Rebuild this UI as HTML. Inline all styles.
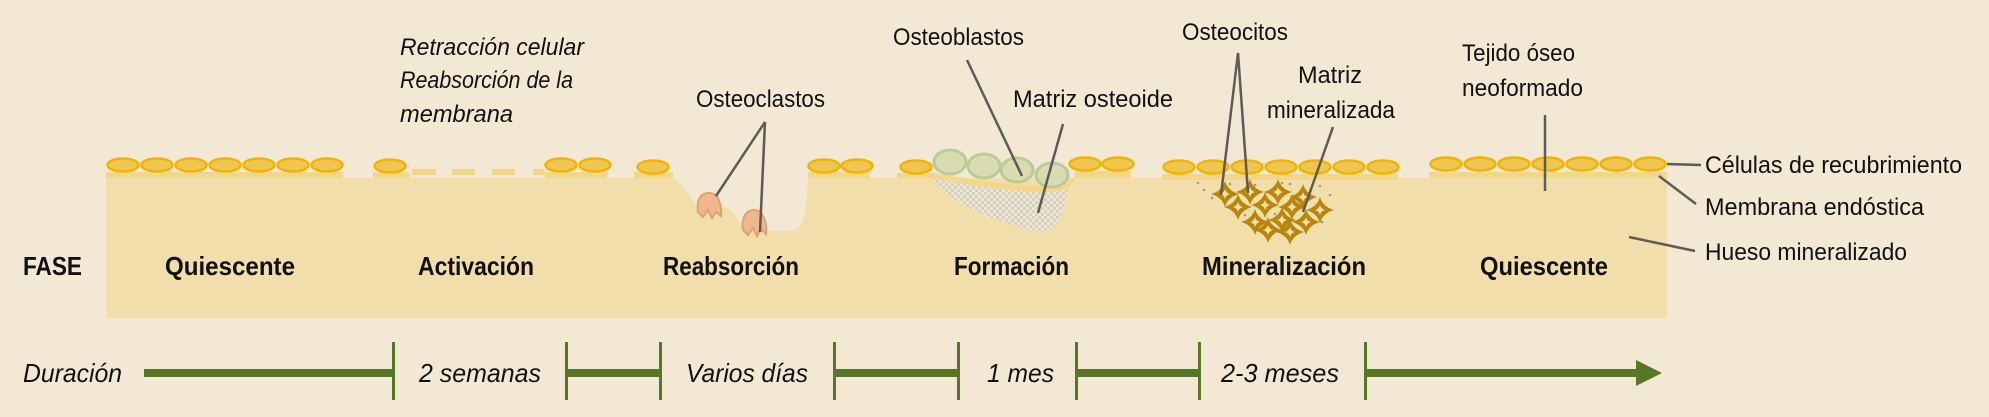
<!DOCTYPE html>
<html><head><meta charset="utf-8"><style>
html,body{margin:0;padding:0;background:#f3e8d4;}
svg{display:block;}
text{font-family:"Liberation Sans Narrow","Liberation Sans",sans-serif;fill:#111;}
.b{font-weight:bold;}
.i{font-style:italic;}
</style></head><body>
<svg width="1989" height="417" viewBox="0 0 1989 417" xmlns="http://www.w3.org/2000/svg">
<defs>
<pattern id="chk" width="6" height="6" patternUnits="userSpaceOnUse">
<rect width="6" height="6" fill="#ece6d6"/><rect width="3" height="3" fill="#d8d0bf"/><rect x="3" y="3" width="3" height="3" fill="#d8d0bf"/>
</pattern>
<g id="cell"><ellipse cx="0" cy="0" rx="15.5" ry="6.5" fill="#efc651" stroke="#f0b400" stroke-width="2.5"/></g>
<g id="star"><path d="M0,-13 Q3,-3 14,0 Q3,3 0,13 Q-3,3 -14,0 Q-3,-3 0,-13Z" fill="#b8860b"/><path d="M0,-5 Q1,-1 5,0 Q1,1 0,5 Q-1,1 -5,0 Q-1,-1 0,-5Z" fill="#f1deaa"/></g>
</defs>
<!-- bone -->
<path d="M106,178 H673 C690,190 690,205 705,210 C720,212 725,200 735,215 C745,232 760,231 790,231 C806,230 806,210 808,178 H1667 V318 H106Z" fill="#f1deaa"/>
<!-- strips -->
<g fill="#f2d68a">
<rect x="106" y="172" width="237" height="6"/>
<rect x="373" y="172" width="36" height="6"/>
<rect x="412" y="169" width="24" height="6"/><rect x="452" y="169" width="23" height="6"/><rect x="492" y="169" width="23" height="6"/><rect x="533" y="169" width="12" height="6"/>
<rect x="545" y="172" width="62" height="6"/>
<rect x="634" y="172" width="39" height="6"/>
<rect x="808" y="172" width="62" height="6"/>
<rect x="897" y="173" width="36" height="5"/>
<rect x="1075" y="171" width="56" height="7"/>
<rect x="1162" y="174" width="236" height="6"/>
<rect x="1429" y="172" width="238" height="6"/>
</g>
<!-- formation -->
<path d="M933,178 C945,200 990,222 1040,231 C1060,232 1064,210 1068,190 L935,178Z" fill="url(#chk)"/>
<path d="M933,173 C960,178 1000,184 1040,186 C1062,187 1068,185 1072,178 L1075,178 C1072,188 1060,193 1040,192 C1000,190 960,184 933,178Z" fill="#f2d68a"/>
<g fill="#d9dcb0" stroke="#b8cc98" stroke-width="3">
<ellipse cx="950" cy="162" rx="16" ry="12"/><ellipse cx="984" cy="166" rx="16" ry="12"/><ellipse cx="1017" cy="170" rx="16" ry="12"/><ellipse cx="1052" cy="175" rx="16" ry="12"/>
</g>
<!-- cells -->
<g>
<use href="#cell" x="123" y="165"/><use href="#cell" x="157" y="165"/><use href="#cell" x="191" y="165"/><use href="#cell" x="225" y="165"/><use href="#cell" x="259" y="165"/><use href="#cell" x="293" y="165"/><use href="#cell" x="327" y="165"/>
<use href="#cell" x="390" y="166"/>
<use href="#cell" x="561" y="165"/><use href="#cell" x="595" y="165"/>
<use href="#cell" x="653" y="167"/>
<use href="#cell" x="824" y="166"/><use href="#cell" x="857" y="166"/>
<use href="#cell" x="916" y="167"/>
<use href="#cell" x="1085" y="164"/><use href="#cell" x="1118" y="164"/>
<use href="#cell" x="1179" y="167"/><use href="#cell" x="1213" y="167"/><use href="#cell" x="1247" y="167"/><use href="#cell" x="1281" y="167"/><use href="#cell" x="1315" y="167"/><use href="#cell" x="1349" y="167"/><use href="#cell" x="1383" y="167"/>
<use href="#cell" x="1446" y="164"/><use href="#cell" x="1480" y="164"/><use href="#cell" x="1514" y="164"/><use href="#cell" x="1548" y="164"/><use href="#cell" x="1582" y="164"/><use href="#cell" x="1616" y="164"/><use href="#cell" x="1650" y="164"/>
</g>
<!-- mineralized -->
<g fill="#999">
<circle cx="1198" cy="183" r="1.3"/><circle cx="1204" cy="190" r="1.3"/><circle cx="1230" cy="184" r="1.3"/><circle cx="1255" cy="185" r="1.3"/><circle cx="1290" cy="184" r="1.3"/><circle cx="1320" cy="186" r="1.3"/><circle cx="1330" cy="195" r="1.3"/><circle cx="1245" cy="215" r="1.3"/><circle cx="1275" cy="214" r="1.3"/><circle cx="1300" cy="232" r="1.3"/><circle cx="1322" cy="222" r="1.3"/><circle cx="1265" cy="233" r="1.3"/><circle cx="1212" cy="198" r="1.3"/><circle cx="1282" cy="183" r="1.3"/>
</g>
<g>
<use href="#star" x="1225" y="194"/><use href="#star" x="1250" y="192"/><use href="#star" x="1278" y="192"/><use href="#star" x="1303" y="197"/>
<use href="#star" x="1238" y="207"/><use href="#star" x="1265" y="205"/><use href="#star" x="1292" y="207"/><use href="#star" x="1320" y="210"/>
<use href="#star" x="1255" y="222"/><use href="#star" x="1282" y="220"/><use href="#star" x="1306" y="222"/><use href="#star" x="1290" y="232"/><use href="#star" x="1268" y="230"/>
</g>
<!-- osteoclasts -->
<g fill="#edb98c" stroke="#e3a06e" stroke-width="2">
<path d="M698,212 C696,198 702,193 709,193 C718,193 722,204 721,216 L716,212 L712,218 L708,210 L703,217Z"/>
<path d="M743,230 C741,216 747,210 754,210 C763,210 767,222 766,234 L761,229 L757,236 L753,228 L748,235Z"/>
</g>
<!-- leader lines -->
<g stroke="#5e5a55" stroke-width="2.5" fill="none">
<line x1="765" y1="122" x2="716" y2="196"/><line x1="765" y1="122" x2="760" y2="232"/>
<line x1="967" y1="60" x2="1022" y2="176"/>
<line x1="1063" y1="124" x2="1038" y2="213"/>
<line x1="1238" y1="53" x2="1221" y2="195"/><line x1="1238" y1="53" x2="1248" y2="193"/>
<line x1="1333" y1="127" x2="1303" y2="212"/>
<line x1="1545" y1="115" x2="1545" y2="191"/>
<line x1="1667" y1="164" x2="1701" y2="165"/>
<line x1="1659" y1="176" x2="1696" y2="204"/>
<line x1="1629" y1="237" x2="1695" y2="251"/>
</g>
<!-- labels -->
<g font-size="24">
<text class="i" x="400" y="55" textLength="184" lengthAdjust="spacingAndGlyphs">Retracción celular</text>
<text class="i" x="400" y="88" textLength="173" lengthAdjust="spacingAndGlyphs">Reabsorción de la</text>
<text class="i" x="400" y="122" textLength="113" lengthAdjust="spacingAndGlyphs">membrana</text>
<text x="696" y="107" textLength="129" lengthAdjust="spacingAndGlyphs">Osteoclastos</text>
<text x="893" y="45" textLength="131" lengthAdjust="spacingAndGlyphs">Osteoblastos</text>
<text x="1013" y="107" textLength="160" lengthAdjust="spacingAndGlyphs">Matriz osteoide</text>
<text x="1182" y="40" textLength="106" lengthAdjust="spacingAndGlyphs">Osteocitos</text>
<text x="1298" y="83" textLength="64" lengthAdjust="spacingAndGlyphs">Matriz</text>
<text x="1267" y="118" textLength="128" lengthAdjust="spacingAndGlyphs">mineralizada</text>
<text x="1462" y="61" textLength="113" lengthAdjust="spacingAndGlyphs">Tejido óseo</text>
<text x="1462" y="96" textLength="121" lengthAdjust="spacingAndGlyphs">neoformado</text>
<text x="1705" y="173" textLength="257" lengthAdjust="spacingAndGlyphs">Células de recubrimiento</text>
<text x="1705" y="215" textLength="219" lengthAdjust="spacingAndGlyphs">Membrana endóstica</text>
<text x="1705" y="260" textLength="202" lengthAdjust="spacingAndGlyphs">Hueso mineralizado</text>
</g>
<g font-size="26" class="b">
<text class="b" x="23" y="275" textLength="59" lengthAdjust="spacingAndGlyphs">FASE</text>
<text class="b" x="165" y="275" textLength="130" lengthAdjust="spacingAndGlyphs">Quiescente</text>
<text class="b" x="418" y="275" textLength="116" lengthAdjust="spacingAndGlyphs">Activación</text>
<text class="b" x="663" y="275" textLength="136" lengthAdjust="spacingAndGlyphs">Reabsorción</text>
<text class="b" x="954" y="275" textLength="115" lengthAdjust="spacingAndGlyphs">Formación</text>
<text class="b" x="1202" y="275" textLength="164" lengthAdjust="spacingAndGlyphs">Mineralización</text>
<text class="b" x="1480" y="275" textLength="128" lengthAdjust="spacingAndGlyphs">Quiescente</text>
</g>
<!-- timeline -->
<g fill="#587726">
<rect x="144" y="369" width="249" height="8"/>
<rect x="566" y="369" width="94" height="8"/>
<rect x="834" y="369" width="124" height="8"/>
<rect x="1076" y="369" width="123" height="8"/>
<rect x="1365" y="369" width="273" height="8"/>
<path d="M1636,360 L1662,373 L1636,386Z"/>
<rect x="392" y="342" width="3" height="58"/><rect x="565" y="342" width="3" height="58"/><rect x="659" y="342" width="3" height="58"/><rect x="833" y="342" width="3" height="58"/>
<rect x="957" y="342" width="3" height="58"/><rect x="1075" y="342" width="3" height="58"/><rect x="1198" y="342" width="3" height="58"/><rect x="1364" y="342" width="3" height="58"/>
</g>
<g font-size="26">
<text class="i" x="23" y="382" textLength="99" lengthAdjust="spacingAndGlyphs">Duración</text>
<text class="i" x="419" y="382" textLength="122" lengthAdjust="spacingAndGlyphs">2 semanas</text>
<text class="i" x="686" y="382" textLength="122" lengthAdjust="spacingAndGlyphs">Varios días</text>
<text class="i" x="987" y="382" textLength="67" lengthAdjust="spacingAndGlyphs">1 mes</text>
<text class="i" x="1221" y="382" textLength="118" lengthAdjust="spacingAndGlyphs">2-3 meses</text>
</g>
</svg>
</body></html>
